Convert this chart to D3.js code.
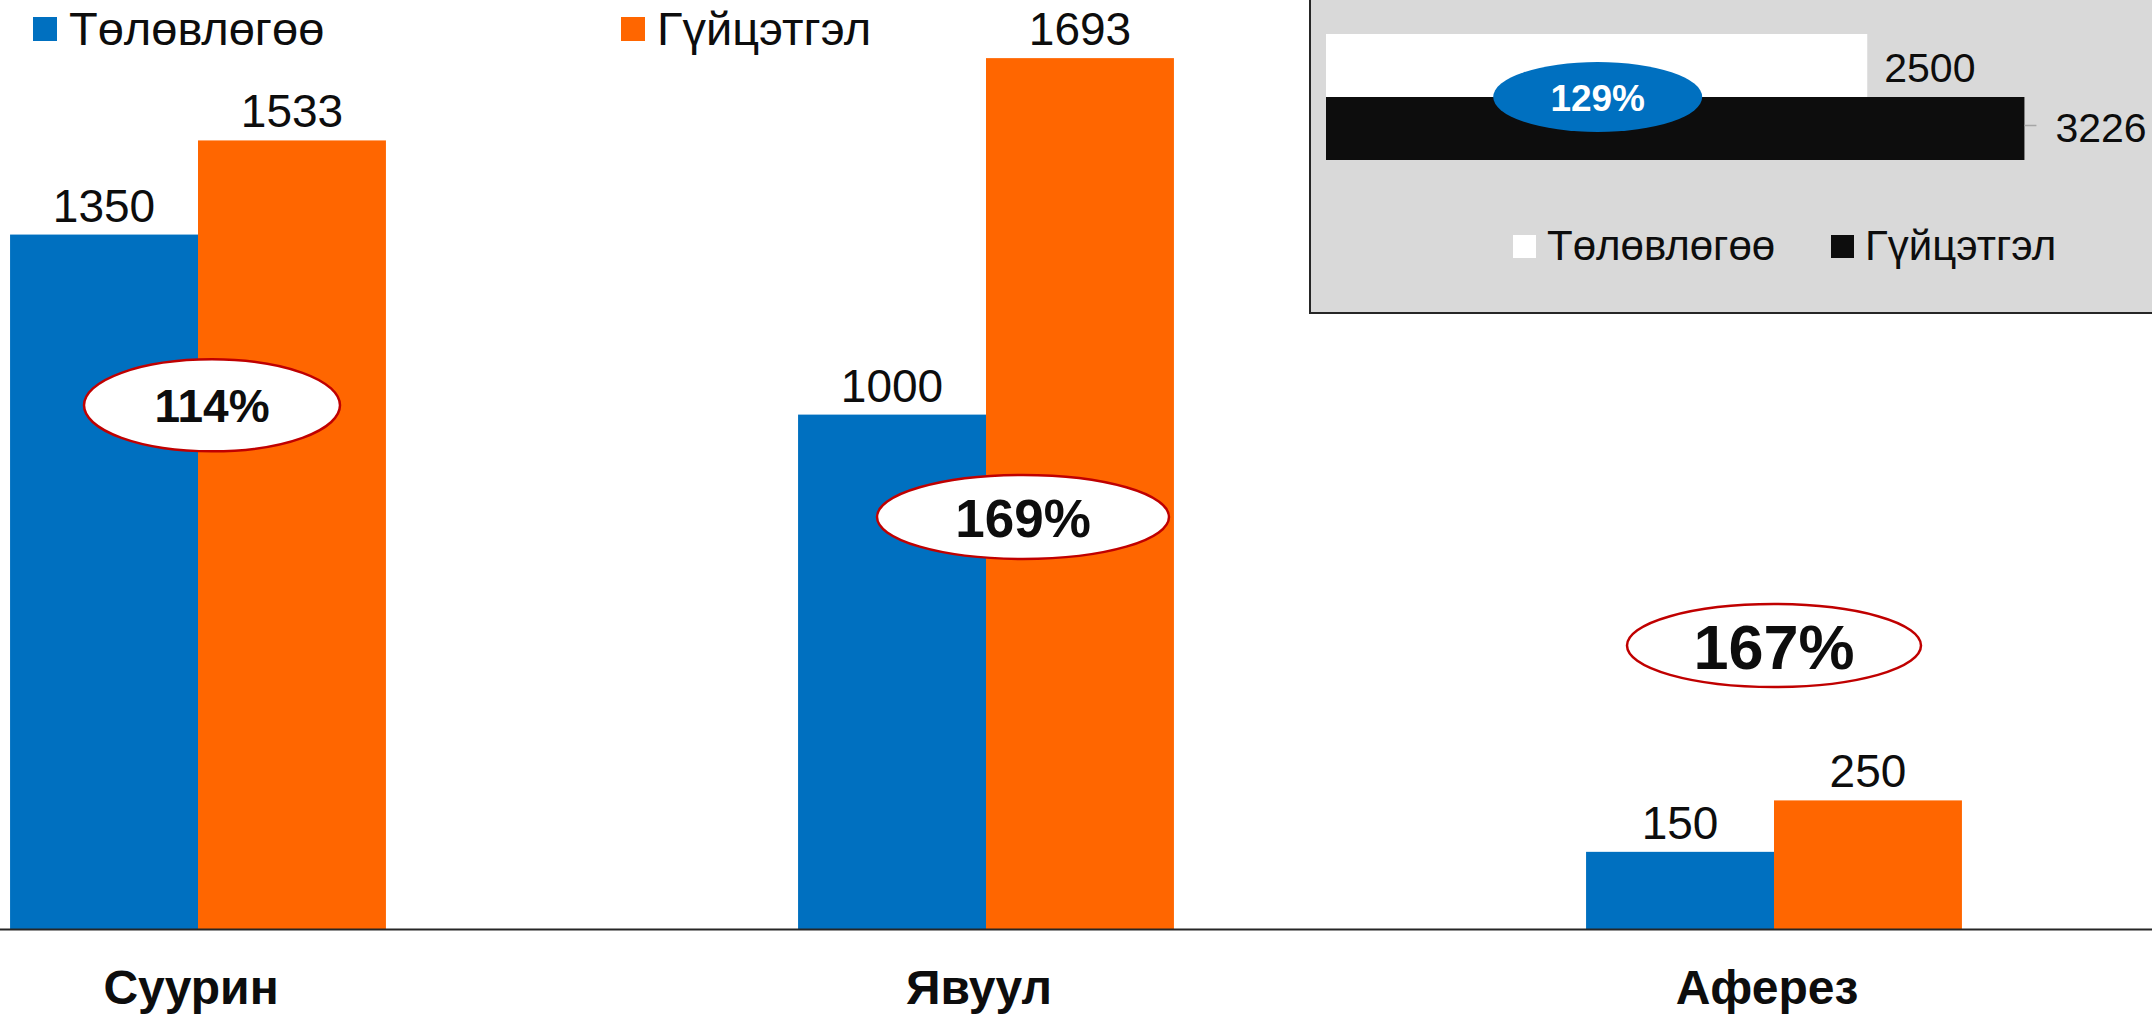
<!DOCTYPE html>
<html><head><meta charset="utf-8">
<script src="https://cdn.jsdelivr.net/npm/d3@7"></script>
<style>
html,body{margin:0;padding:0;background:#fff;overflow:hidden;}
text{font-family:"Liberation Sans",Arial,sans-serif;fill:#0d0d0d;}
</style></head>
<body>
<svg id="chart" width="2152" height="1015"></svg>
<script>
// ---- data ----
const categories = ["Суурин", "Явуул", "Аферез"];
const seriesNames = ["Төлөвлөгөө", "Гүйцэтгэл"];
const planValues = [1350, 1000, 150];
const actualValues = [1533, 1693, 250];
const percentLabels = ["114%", "169%", "167%"];
const insetNames = ["Төлөвлөгөө", "Гүйцэтгэл"];
const insetValues = [2500, 3226];
const insetPercent = "129%";

// ---- layout / style ----
const W = 2152, H = 1015;
const colors = ["#0070c0", "#ff6600"];
const insetColors = ["#ffffff", "#0d0d0d"];
const baseY = 929;
// annotation ellipses: position in data space (category offset px, value), size, font
const ellipseLayout = [
  {dx: 14, v: 1018, rx: 128, ry: 46, fs: 46},
  {dx: 37, v: 801, rx: 146, ry: 42, fs: 53},
  {dx: 0, v: 551, rx: 147, ry: 41.5, fs: 63}
];

const svg = d3.select("#chart");

const x = d3.scaleBand().domain(categories).range([-196, 2168])
  .paddingInner(0.523).paddingOuter(0.2615);
const xs = d3.scaleBand().domain([0, 1]).range([0, x.bandwidth()]);
const y = d3.scaleLinear().domain([0, 1806]).range([baseY, 0]);

const rows = categories.map((c, i) => ({c, vals: [planValues[i], actualValues[i]]}));

const g = svg.append("g");
const groups = g.selectAll("g.grp").data(rows).join("g")
  .attr("transform", d => `translate(${x(d.c)},0)`);

groups.selectAll("rect").data(d => d.vals.map((v, k) => ({v, k}))).join("rect")
  .attr("x", d => xs(d.k)).attr("width", xs.bandwidth())
  .attr("y", d => y(d.v)).attr("height", d => baseY - y(d.v))
  .attr("fill", d => colors[d.k]);

groups.selectAll("text.val").data(d => d.vals.map((v, k) => ({v, k}))).join("text")
  .attr("class", "val")
  .attr("x", d => xs(d.k) + xs.bandwidth() / 2)
  .attr("y", d => y(d.v) - 13)
  .attr("text-anchor", "middle").attr("font-size", 46)
  .text(d => d.v);

// axis
const axis = d3.axisBottom(x).tickSize(0).tickSizeOuter(0).tickPadding(41);
const ax = svg.append("g").attr("transform", `translate(0,${baseY})`).call(axis);
ax.select(".domain").attr("stroke", "#262626").attr("stroke-width", 2);
ax.selectAll(".tick text").attr("font-size", 48).attr("font-weight", "bold")
  .attr("dx", -7).attr("fill", "#0d0d0d")
  .style("font-family", '"Liberation Sans",Arial,sans-serif');

// percentage ellipses
const ann = svg.append("g");
rows.forEach((d, i) => {
  const L = ellipseLayout[i];
  const cx = x(d.c) + x.bandwidth() / 2 + L.dx;
  const cy = y(L.v);
  ann.append("ellipse").attr("cx", cx).attr("cy", cy).attr("rx", L.rx).attr("ry", L.ry)
    .attr("fill", "#fff").attr("stroke", "#c00000").attr("stroke-width", 2.5);
  ann.append("text").attr("x", cx).attr("y", cy + L.fs * 0.37)
    .attr("text-anchor", "middle").attr("font-size", L.fs).attr("font-weight", "bold")
    .text(percentLabels[i]);
});

// main legend
const leg = svg.append("g");
const legX = [33, 621];
seriesNames.forEach((n, k) => {
  leg.append("rect").attr("x", legX[k]).attr("y", 17).attr("width", 24).attr("height", 24).attr("fill", colors[k]);
  leg.append("text").attr("x", legX[k] + 36).attr("y", 45).attr("font-size", 47).text(n);
});

// inset panel
const inset = svg.append("g");
inset.append("rect").attr("x", 1310).attr("y", -5).attr("width", 900).attr("height", 318)
  .attr("fill", "#d9d9d9").attr("stroke", "#262626").attr("stroke-width", 2);
const ix = d3.scaleLinear().domain([0, 4000]).range([1326, 1326 + 866]);
const iy = d3.scaleBand().domain([0, 1]).range([34, 160]);
inset.selectAll("rect.ib").data(insetValues).join("rect").attr("class", "ib")
  .attr("x", ix(0)).attr("y", (d, k) => iy(k)).attr("height", iy.bandwidth())
  .attr("width", d => ix(d) - ix(0)).attr("fill", (d, k) => insetColors[k]);
// labels
inset.append("text").attr("x", ix(insetValues[0]) + 17).attr("y", 82).attr("font-size", 41).text(insetValues[0]);
inset.append("line").attr("x1", ix(insetValues[1])).attr("x2", ix(insetValues[1]) + 12)
  .attr("y1", iy(1) + iy.bandwidth() / 2 - 3).attr("y2", iy(1) + iy.bandwidth() / 2 - 3)
  .attr("stroke", "#a6a6a6").attr("stroke-width", 1.5);
inset.append("text").attr("x", ix(insetValues[1]) + 31).attr("y", 142).attr("font-size", 41).text(insetValues[1]);
// blue ellipse
inset.append("ellipse").attr("cx", ix(1255)).attr("cy", iy(1)).attr("rx", 104.5).attr("ry", 35).attr("fill", "#0070c0");
inset.append("text").attr("x", ix(1255)).attr("y", iy(1) + 14).attr("text-anchor", "middle")
  .attr("font-size", 37).attr("font-weight", "bold").style("fill", "#fff").text(insetPercent);
// inset legend
const ilX = [1513, 1831];
insetNames.forEach((n, k) => {
  inset.append("rect").attr("x", ilX[k]).attr("y", 235).attr("width", 23).attr("height", 23).attr("fill", insetColors[k]);
  inset.append("text").attr("x", ilX[k] + 34).attr("y", 260).attr("font-size", 42).text(n);
});
</script>
</body></html>
